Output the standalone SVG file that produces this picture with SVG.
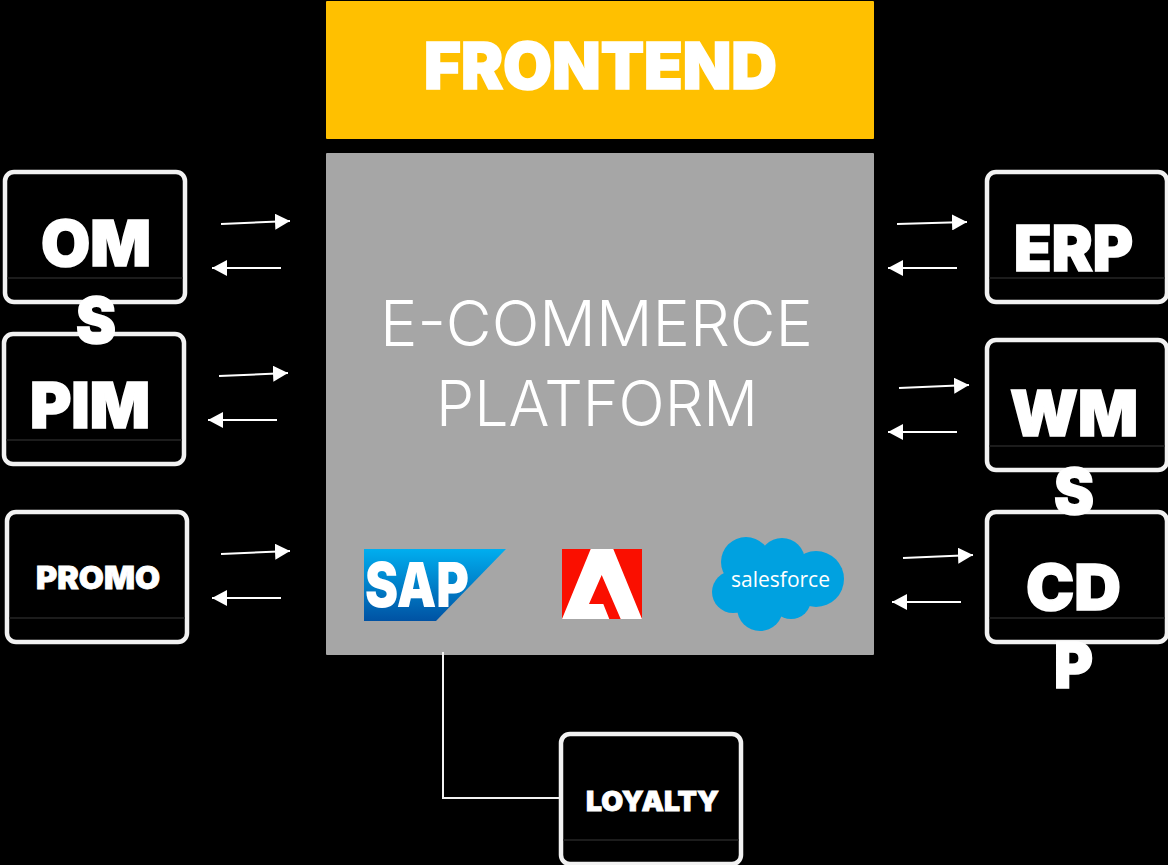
<svg xmlns="http://www.w3.org/2000/svg" width="1168" height="865" viewBox="0 0 1168 865">
<style>
.box{fill:#000;stroke:#f2f2f2;stroke-width:4.5}
.rule{stroke:#262626;stroke-width:1.5;fill:none}
.big{font-family:Inter,"Liberation Sans",sans-serif;font-weight:900;fill:#fff;stroke:#fff;stroke-width:1.6}
.small{stroke-width:.8}
.thin{font-family:Inter,"Noto Sans",sans-serif;font-weight:300;fill:#fff;font-size:63px}
.arrow{stroke:#fff;stroke-width:2;fill:none;marker-end:url(#head)}
.link{stroke:#f2f2f2;stroke-width:2;fill:none}
</style>
<defs>
<marker id="head" markerUnits="userSpaceOnUse" markerWidth="16" markerHeight="16" refX="15" refY="8" orient="auto"><path d="M0 0L15 8L0 16Z" fill="#fff"/></marker>
<linearGradient id="sapg" x1="0" y1="0" x2="0" y2="1"><stop offset="0" stop-color="#00aeef"/><stop offset="1" stop-color="#0052a3"/></linearGradient>
</defs>
<rect width="1168" height="865" fill="#000"/>
<g id="frontend"><rect x="326" y="1" width="548" height="138" rx="1" fill="#ffc000"/><text class="big" x="424" y="89" font-size="64" textLength="353" lengthAdjust="spacingAndGlyphs">FRONTEND</text></g>
<g id="platform"><rect x="326" y="153" width="548" height="502" rx="1" fill="#a6a6a6"/>
<text class="thin" x="380" y="346" textLength="433" lengthAdjust="spacingAndGlyphs">E-COMMERCE</text>
<text class="thin" x="436" y="426" textLength="322" lengthAdjust="spacingAndGlyphs">PLATFORM</text></g>
<g id="logo-sap"><polygon points="364,549 506,549 436,621 364,621" fill="url(#sapg)"/><text x="365" y="607" font-family="Inter,'Liberation Sans',sans-serif" font-weight="900" font-size="62" fill="#fff" textLength="104" lengthAdjust="spacingAndGlyphs">SAP</text></g>
<g id="logo-adobe"><rect x="562" y="549" width="80" height="70" fill="#fa0f00"/><polygon points="590.7,549 613.3,549 642,619 620.7,619 601.7,575 589,604 603.3,604 609.3,619 562,619" fill="#fff"/></g>
<g id="logo-salesforce" fill="#00a1e0"><circle cx="733" cy="592" r="21"/><circle cx="746" cy="562" r="25"/><circle cx="782" cy="561" r="23"/><circle cx="816" cy="579" r="28"/><circle cx="760" cy="608" r="23"/><circle cx="791" cy="599" r="20"/><rect x="735" y="560" width="70" height="45"/><text x="731" y="587" font-family="'Open Sans','Liberation Sans',sans-serif" font-size="21" fill="#fff" textLength="99" lengthAdjust="spacingAndGlyphs">salesforce</text></g>
<g id="connectors">
<path class="arrow" d="M221 224L290 221"/><path class="arrow" d="M281 268L212 268"/>
<path class="arrow" d="M219 376L288 373"/><path class="arrow" d="M277 420L208 420"/>
<path class="arrow" d="M221 554L290 551"/><path class="arrow" d="M281 598L212 598"/>
<path class="arrow" d="M897 224L967 222"/><path class="arrow" d="M957 268L888 268"/>
<path class="arrow" d="M899 388L969 385"/><path class="arrow" d="M957 432L888 432"/>
<path class="arrow" d="M903 558L973 555"/><path class="arrow" d="M961 602L892 602"/>
<path class="link" d="M443 652V798H559"/>
</g>
<g id="pim"><rect class="box" x="4" y="334" width="180" height="130" rx="9"/><path class="rule" d="M6 440H182"/><text class="big" x="30" y="428" font-size="63" textLength="120" lengthAdjust="spacingAndGlyphs">PIM</text></g>
<g id="oms"><rect class="box" x="5" y="172" width="180" height="130" rx="9"/><path class="rule" d="M7 278H183"/><text class="big" x="41" y="266" font-size="63" textLength="110" lengthAdjust="spacingAndGlyphs">OM</text><text class="big" x="76" y="343" font-size="63" textLength="40" lengthAdjust="spacingAndGlyphs">S</text></g>
<g id="promo"><rect class="box" x="7" y="512" width="180" height="130" rx="9"/><path class="rule" d="M9 618H185"/><text class="big small" x="36" y="589" font-size="31" textLength="124" lengthAdjust="spacingAndGlyphs">PROMO</text></g>
<g id="erp"><rect class="box" x="987" y="172" width="180" height="130" rx="9"/><path class="rule" d="M989 278H1165"/><text class="big" x="1014" y="271" font-size="63" textLength="119" lengthAdjust="spacingAndGlyphs">ERP</text></g>
<g id="cdp"><rect class="box" x="987" y="512" width="180" height="130" rx="9"/><path class="rule" d="M989 618H1165"/><text class="big" x="1026" y="610" font-size="63" textLength="95" lengthAdjust="spacingAndGlyphs">CD</text><text class="big" x="1054" y="688" font-size="63" textLength="39" lengthAdjust="spacingAndGlyphs">P</text></g>
<g id="wms"><rect class="box" x="987" y="340" width="180" height="130" rx="9"/><path class="rule" d="M989 446H1165"/><text class="big" x="1010" y="436" font-size="63" textLength="128" lengthAdjust="spacingAndGlyphs">WM</text><text class="big" x="1054" y="514" font-size="63" textLength="40" lengthAdjust="spacingAndGlyphs">S</text></g>
<g id="loyalty"><rect class="box" x="561" y="734" width="180" height="130" rx="9"/><path class="rule" d="M563 840H739"/><text class="big small" x="586" y="811" font-size="27" textLength="133" lengthAdjust="spacingAndGlyphs">LOYALTY</text></g>
</svg>
